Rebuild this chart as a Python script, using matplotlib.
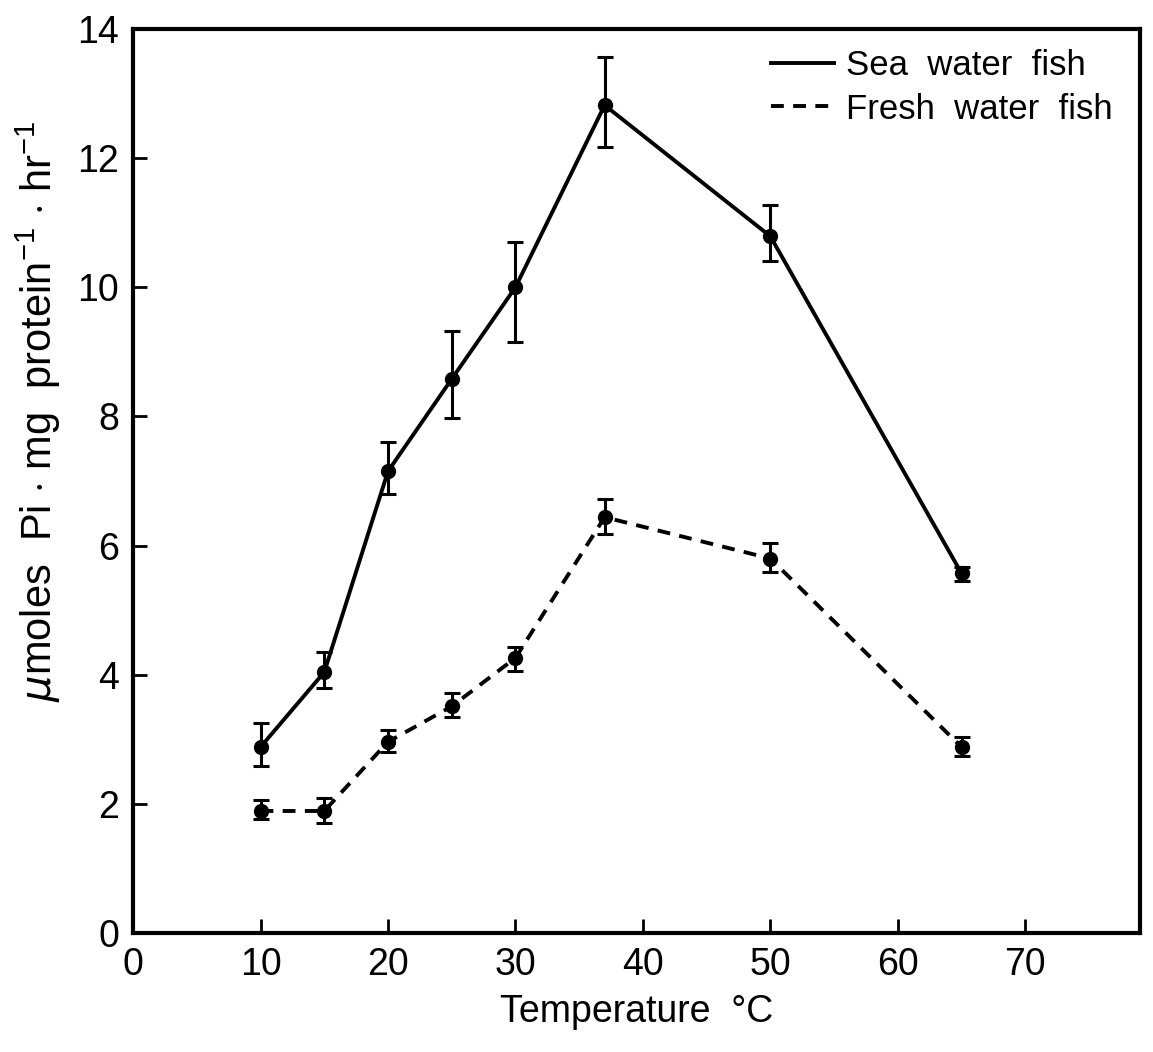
import matplotlib.pyplot as plt

plt.rcParams["font.family"] = ["Liberation Sans", "DejaVu Sans"]
plt.rcParams["mathtext.fontset"] = "custom"
plt.rcParams["mathtext.rm"] = "Liberation Sans"

temperature = [10, 15, 20, 25, 30, 37, 50, 65]

sea_mean = [2.88, 4.04, 7.15, 8.58, 10.0, 12.82, 10.79, 5.57]
sea_low = [2.58, 3.79, 6.80, 7.97, 9.16, 12.17, 10.40, 5.45]
sea_high = [3.25, 4.35, 7.60, 9.32, 10.70, 13.56, 11.28, 5.67]

fresh_mean = [1.89, 1.89, 2.96, 3.51, 4.26, 6.44, 5.80, 2.88]
fresh_low = [1.76, 1.70, 2.80, 3.35, 4.06, 6.18, 5.59, 2.74]
fresh_high = [2.06, 2.09, 3.14, 3.72, 4.43, 6.72, 6.04, 3.03]

x_ticks = [0, 10, 20, 30, 40, 50, 60, 70]
y_ticks = [0, 2, 4, 6, 8, 10, 12, 14]


def _err(mean, low, high):
    return [[m - lo for m, lo in zip(mean, low)], [hi - m for m, hi in zip(mean, high)]]


fig = plt.figure(figsize=(11.53, 10.52), dpi=100)
ax = fig.add_axes([0.1154, 0.1131, 0.8733, 0.8593])

ax.plot(temperature, sea_mean, color="black", lw=2.8, label="Sea  water  fish")
ax.plot(temperature, fresh_mean, color="black", lw=2.8, ls=(0, (3.3, 2.4)),
        label="Fresh  water  fish")

for mean, low, high in [(sea_mean, sea_low, sea_high), (fresh_mean, fresh_low, fresh_high)]:
    ax.errorbar(temperature, mean, yerr=_err(mean, low, high), fmt="o", color="black",
                ms=10, elinewidth=2.2, capsize=6, capthick=2.2)

ax.set_xlim(0, 79)
ax.set_ylim(0, 14)
ax.set_xticks(x_ticks)
ax.set_yticks(y_ticks)
ax.tick_params(direction="in", length=10, width=2, labelsize=27, pad=10,
               top=False, right=False)
for side in ["left", "right", "top", "bottom"]:
    ax.spines[side].set_linewidth(3)

ax.set_xlabel("Temperature  °C", fontsize=27, labelpad=8)
ax.set_ylabel(r"$\mu$moles  Pi $\cdot$ mg  protein$^{-1}$ $\cdot$ hr$^{-1}$", fontsize=30)
ax.yaxis.set_label_coords(-0.07, 0.577)

ax.legend(loc="upper right", bbox_to_anchor=(0.99, 0.997), frameon=False, fontsize=25,
          handlelength=1.8, handletextpad=0.35, labelspacing=0.3, borderaxespad=0.1)

fig.savefig("out.png", dpi=100)
plt.close(fig)
